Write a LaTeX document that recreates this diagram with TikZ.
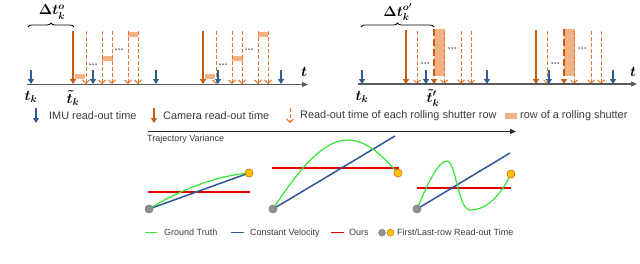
\documentclass[tikz,border=0pt]{standalone}
\usepackage{fontspec}
\setmainfont{Liberation Sans}
\usetikzlibrary{arrows.meta,decorations.pathreplacing}
\definecolor{imublue}{HTML}{2E5C91}
\definecolor{camor}{HTML}{C55A11}
\definecolor{rsor}{HTML}{E8772F}
\definecolor{rowfill}{HTML}{F4B183}
\definecolor{axisgray}{HTML}{5A5A5A}
\definecolor{txt}{HTML}{3A3A3A}
\definecolor{gtgreen}{HTML}{33E633}
\definecolor{cvblue}{HTML}{2F5597}
\definecolor{oursred}{HTML}{E00000}
\definecolor{dotgray}{HTML}{8F8F8F}
\definecolor{dotor}{HTML}{FFC000}
\begin{document}
\begin{tikzpicture}[x=1pt,y=-1pt,
 imu/.style={imublue, line width=2pt, -{Triangle[length=5pt,width=6pt]}},
 cam/.style={camor, line width=2pt, -{Triangle[length=5pt,width=6pt]}},
 rsrow/.style={rsor, line width=1pt, dash pattern=on 3.5pt off 2.5pt, -{Straight Barb[length=3.5pt,width=7pt,line width=1pt]}},
 rsthick/.style={camor, line width=2.2pt, dash pattern=on 7pt off 3pt, -{Triangle[length=5pt,width=6pt]}},
 rowbox/.style={fill=rowfill, draw=none},
 axisline/.style={axisgray, line width=1.2pt, -{Triangle[length=6pt,width=5pt]}},
 mathlbl/.style={font=\fontsize{14}{16}\selectfont\boldmath, inner sep=0pt},
 legtxt/.style={txt, font=\fontsize{10.9}{12}\selectfont, anchor=west, inner sep=0pt},
 smalltxt/.style={txt, font=\fontsize{9}{10}\selectfont, anchor=west, inner sep=0pt},
 bracestyle/.style={decorate, decoration={brace,amplitude=4pt}, line width=0.8pt},
 gt/.style={gtgreen, line width=1.2pt},
 cv/.style={cvblue, line width=1.5pt},
 ours/.style={draw=oursred, line width=1.5pt},
 firstdot/.style={circle, fill=dotgray, draw=gray, line width=0.4pt, minimum size=8pt, inner sep=0pt},
 lastdot/.style={circle, fill=dotor, draw=orange!80!black, line width=0.4pt, minimum size=8pt, inner sep=0pt}
]
\useasboundingbox (0,0) rectangle (640,263);
\newcommand{\ellipsisdots}[2]{\foreach \d in {-3,0,3}{\fill[black] (#1+\d,#2) circle (0.75pt);}}

% ---------------- left timeline ----------------
\foreach \g in {0,130}{
  \fill[rowbox] (75+\g,74) rectangle (85+\g,79);
  \fill[rowbox] (102+\g,56) rectangle (113+\g,61);
  \fill[rowbox] (128+\g,32) rectangle (138+\g,37);
  \foreach \x in {86,102,112,128,138}{ \draw[rsrow] (\x+\g,31) -- (\x+\g,84); }
  \draw[cam] (73+\g,31) -- (73+\g,84);
  \ellipsisdots{93+\g}{64}
  \ellipsisdots{119+\g}{49}
}
\foreach \x in {31,93,156,218,281}{ \draw[imu] (\x,70) -- (\x,84); }
\coordinate (la0) at (27,84.5);
\coordinate (la1) at (308,84.5);
\draw[axisline] (la0) -- (la1);
\node[mathlbl] (lt) at (304,72) {$t$};
\node[mathlbl] (ltk) at (31,97) {$t_k$};
\node[mathlbl] (lttk) at (73,98) {$\tilde{t}_k$};
\coordinate (lb0) at (28,27);
\coordinate (lb1) at (74,27);
\draw[bracestyle] (lb0) -- (lb1);
\node[mathlbl] (ldt) at (52,12) {$\Delta t_k^{o}$};

% ---------------- right timeline ----------------
\foreach \g in {0,130}{
  \fill[rowbox] (434+\g,29) rectangle (445+\g,76);
  \foreach \x in {417,444,461,471}{ \draw[rsrow] (\x+\g,31) -- (\x+\g,84); }
  \draw[rsthick] (434+\g,29) -- (434+\g,84);
  \draw[cam] (406+\g,30) -- (406+\g,84);
  \ellipsisdots{425+\g}{63}
  \ellipsisdots{452+\g}{48}
}
\foreach \x in {362,426,487,549,613}{ \draw[imu] (\x,70) -- (\x,84); }
\coordinate (ra0) at (358,84);
\coordinate (ra1) at (637,84);
\draw[axisline] (ra0) -- (ra1);
\node[mathlbl] (rt) at (633,72) {$t$};
\node[mathlbl] (rtk) at (362,97) {$t_k$};
\node[mathlbl] (rttk) at (433,98) {$\tilde{t}'_k$};
\coordinate (rb0) at (361,27);
\coordinate (rb1) at (434,27);
\draw[bracestyle] (rb0) -- (rb1);
\node[mathlbl] (rdt) at (398,12) {$\Delta t_k^{o'}$};

% ---------------- top legend ----------------
\draw[imu] (36,108) -- (36,123);
\node[legtxt] (l1) at (49,116) {IMU read-out time};
\draw[cam] (154,108) -- (154,123);
\node[legtxt] (l2) at (163,116) {Camera read-out time};
\draw[rsrow] (290,108) -- (290,123);
\node[legtxt] (l3) at (300,116) {Read-out time of each rolling shutter row};
\fill[rowbox] (505,113) rectangle (517,119);
\node[legtxt] (l4) at (520,116) {row of a rolling shutter};

% ---------------- trajectory variance ----------------
\coordinate (tv0) at (148,131.5);
\coordinate (tv1) at (516,131.5);
\draw[black!85, line width=1.1pt, -{Triangle[length=6pt,width=5pt]}] (tv0) -- (tv1);
\node[smalltxt] (tvl) at (147,139.5) {Trajectory Variance};

% plot 1
\node[firstdot] (p1a) at (149,209) {};
\node[lastdot] (p1b) at (249,173) {};
\draw[ours] (148,192) -- (250,192);
\draw[cv] (p1a.center) -- (p1b.center);
\draw[gt] (p1a.center) .. controls (180,190) and (215,176) .. (p1b.center);
\node[firstdot] at (p1a) {};
\node[lastdot] at (p1b) {};

% plot 2
\node[firstdot] (p2a) at (273,209) {};
\node[lastdot] (p2b) at (398,173) {};
\coordinate (p2c) at (395,136);
\draw[ours] (272,168) -- (399,168);
\draw[cv] (p2a.center) -- (p2c);
\draw[gt] (p2a.center) .. controls (292,180) and (320,140) .. (347,140)
          .. controls (370,140) and (385,160) .. (p2b.center);
\node[firstdot] at (p2a) {};
\node[lastdot] at (p2b) {};

% plot 3
\node[firstdot] (p3a) at (417,209) {};
\node[lastdot] (p3b) at (511,174) {};
\coordinate (p3c) at (510,153);
\draw[ours] (417,188) -- (511,188);
\draw[cv] (p3a.center) -- (p3c);
\draw[gt] (p3a.center) .. controls (427,185) and (438,161) .. (447,161)
          .. controls (456,161) and (458,210) .. (470,210)
          .. controls (490,210) and (503,190) .. (p3b.center);
\node[firstdot] at (p3a) {};
\node[lastdot] at (p3b) {};

% ---------------- bottom legend ----------------
\draw[gt, line width=1.5pt] (145,232.7) -- (157,232.7);
\node[smalltxt] (b1) at (164,232.7) {Ground Truth};
\draw[cv] (231,232.7) -- (244,232.7);
\node[smalltxt] (b2) at (250,232.7) {Constant Velocity};
\draw[ours] (331,232.7) -- (344,232.7);
\node[smalltxt] (b3) at (349,232.7) {Ours};
\node[firstdot, minimum size=7pt] (bd1) at (382,232.7) {};
\node[lastdot, minimum size=7pt] (bd2) at (390.5,232.7) {};
\node[smalltxt] (b4) at (397,232.7) {First/Last-row Read-out Time};
\end{tikzpicture}
\end{document}
